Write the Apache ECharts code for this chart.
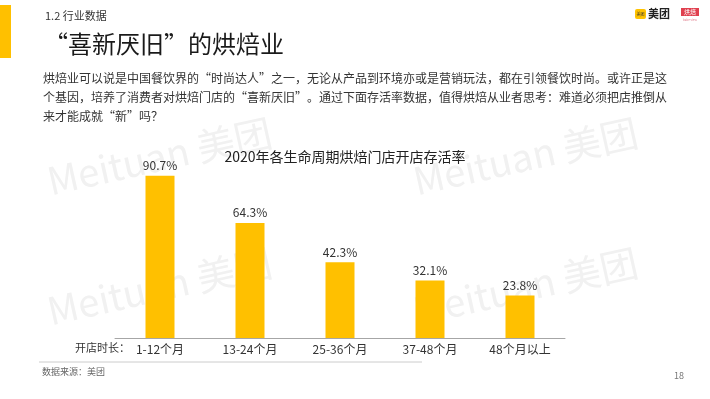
<!DOCTYPE html>
<html>
<head>
<meta charset="utf-8">
<style>
  html, body { margin: 0; padding: 0; background: #fff; }
  #chart { width: 710px; height: 399px; }
</style>
<script src="https://cdn.jsdelivr.net/npm/echarts@6/dist/echarts.min.js"></script>
</head>
<body>
<div id="chart"></div>
<script>
const categories = ['1-12个月', '13-24个月', '25-36个月', '37-48个月', '48个月以上'];
const survivalRate = [90.7, 64.3, 42.3, 32.1, 23.8];
const paragraphLines = [
  '烘焙业可以说是中国餐饮界的“时尚达人”之一，无论从产品到环境亦或是营销玩法，都在引领餐饮时尚。或许正是这',
  '个基因，培养了消费者对烘焙门店的“喜新厌旧”。通过下面存活率数据，值得烘焙从业者思考：难道必须把店推倒从',
  '来才能成就“新”吗？'
];

const FONT = '"Noto Sans CJK SC", "Microsoft YaHei", sans-serif';
const chart = echarts.init(document.getElementById('chart'), null, { renderer: 'canvas' });

// light diagonal watermarks behind everything
const watermarks = [[52, 200], [418, 200], [52, 330], [418, 330]].map(function (p) {
  return {
    type: 'text', x: p[0], y: p[1], rotation: 0.22, z: -10, silent: true,
    style: { text: 'Meituan 美团', font: '38px ' + FONT, fill: '#f1f1f1', textVerticalAlign: 'bottom' }
  };
});

const option = {
  backgroundColor: '#ffffff',
  textStyle: { fontFamily: FONT },
  title: {
    text: '2020年各生命周期烘焙门店开店存活率',
    left: 340, top: 145, textAlign: 'center',
    textStyle: { fontSize: 14, fontWeight: 'normal', color: '#222', fontFamily: FONT }
  },
  grid: { left: 115, right: 145, top: 159, bottom: 61 },
  xAxis: {
    type: 'category',
    data: categories,
    axisLine: { lineStyle: { color: '#a6a6a6', width: 1 } },
    axisTick: { show: false },
    axisLabel: { color: '#333', fontSize: 12, margin: 5, fontFamily: FONT }
  },
  yAxis: { type: 'value', min: 0, max: 100, show: false, splitLine: { show: false } },
  series: [{
    type: 'bar',
    data: survivalRate,
    barWidth: 29,
    itemStyle: { color: '#ffc000' },
    label: { show: true, position: 'top', distance: 4, formatter: '{c}%', color: '#333', fontSize: 12, fontFamily: FONT }
  }],
  graphic: watermarks.concat([
    { type: 'rect', shape: { x: 0, y: 5, width: 11, height: 53 }, style: { fill: '#ffc000' } },
    { type: 'text', x: 45, y: 16, style: { text: '1.2 行业数据', font: '11px ' + FONT, fill: '#333', textVerticalAlign: 'middle' } },
    { type: 'text', x: 44, y: 44, style: { text: '“喜新厌旧”的烘焙业', font: '24px ' + FONT, fill: '#1a1a1a', textVerticalAlign: 'middle' } },
    { type: 'text', x: 43, y: 78, style: { text: paragraphLines[0], font: '12px ' + FONT, fill: '#333', textVerticalAlign: 'middle' } },
    { type: 'text', x: 43, y: 97, style: { text: paragraphLines[1], font: '12px ' + FONT, fill: '#333', textVerticalAlign: 'middle' } },
    { type: 'text', x: 43, y: 116, style: { text: paragraphLines[2], font: '12px ' + FONT, fill: '#333', textVerticalAlign: 'middle' } },
    { type: 'text', x: 75, y: 348, style: { text: '开店时长：', font: '11px ' + FONT, fill: '#333', textVerticalAlign: 'middle' } },
    // logos, top right
    { type: 'rect', shape: { x: 635, y: 9, width: 11, height: 10, r: 2 }, style: { fill: '#ffc300' } },
    { type: 'text', x: 640.5, y: 14, style: { text: '美团', font: '4px ' + FONT, fill: '#333', textAlign: 'center', textVerticalAlign: 'middle' } },
    { type: 'text', x: 648, y: 14, style: { text: '美团', font: 'bold 11px ' + FONT, fill: '#222', textVerticalAlign: 'middle' } },
    { type: 'rect', shape: { x: 681, y: 8, width: 18, height: 8 }, style: { fill: '#e0404f' } },
    { type: 'text', x: 690, y: 12, style: { text: '烘焙', font: '6px ' + FONT, fill: '#fff', textAlign: 'center', textVerticalAlign: 'middle' } },
    { type: 'text', x: 690, y: 20, style: { text: 'bake view', font: '3px ' + FONT, fill: '#e08090', textAlign: 'center', textVerticalAlign: 'middle' } },
    // footer
    { type: 'line', shape: { x1: 39, y1: 362, x2: 422, y2: 362 }, style: { stroke: '#cccccc', lineWidth: 1 } },
    { type: 'text', x: 42, y: 372, style: { text: '数据来源：美团', font: '9px ' + FONT, fill: '#666', textVerticalAlign: 'middle' } },
    { type: 'text', x: 674, y: 376, style: { text: '18', font: '9px ' + FONT, fill: '#777', textVerticalAlign: 'middle' } }
  ])
};

chart.setOption(option);
</script>
</body>
</html>
